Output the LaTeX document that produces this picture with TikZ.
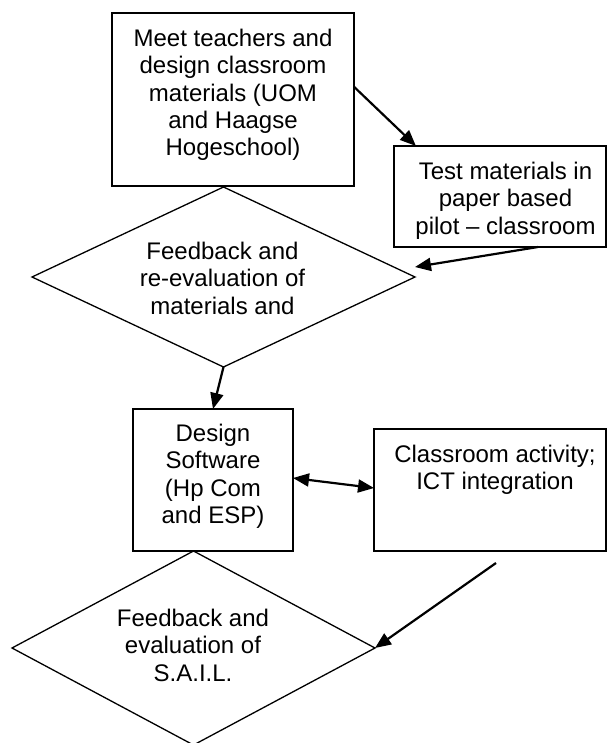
\documentclass[tikz,border=0pt]{standalone}
\usepackage{fontspec}
\setmainfont{Liberation Sans}
\usetikzlibrary{shapes.geometric,arrows.meta}

\tikzset{
  shapebox/.style={draw=black, line width=1.3pt, rectangle, inner sep=0pt, outer sep=0pt, fill=none},
  decision/.style={draw=black, line width=1.3pt, diamond, inner sep=0pt, outer sep=0pt, shape aspect=1},
  txt/.style={anchor=north, inner sep=0pt, align=center,
    font=\fontsize{24pt}{27.3pt}\selectfont,
    execute at begin node={\rule{0pt}{18pt}}},
  flow/.style={line width=2.2pt, -{Triangle[length=16pt,width=13pt]}},
  twoway/.style={line width=2.2pt, {Triangle[length=16pt,width=13pt]}-{Triangle[length=16pt,width=13pt]}}
}

\begin{document}
\begin{tikzpicture}[x=1pt, y=-1pt]
  \useasboundingbox (0,0) rectangle (608,743);
  \clip (0,0) rectangle (608,743);

  % process boxes
  \node[shapebox, minimum width=242pt, minimum height=173pt] (meet) at (233,99.5) {};
  \node[shapebox, minimum width=212pt, minimum height=101pt] (test) at (500,196.5) {};
  \node[shapebox, minimum width=160pt, minimum height=142pt] (design) at (213,480) {};
  \node[shapebox, minimum width=232pt, minimum height=122pt] (class) at (490,490) {};

  % decision diamonds
  \node[decision, minimum width=383pt, minimum height=180pt] (fbone) at (223.5,277) {};
  \node[decision, minimum width=363pt, minimum height=194pt] (fbtwo) at (193.5,648) {};

  % labels
  \node[txt] (meet-t) at (233,29) {Meet teachers and\\design classroom\\materials (UOM\\and Haagse\\Hogeschool)};
  \node[txt] (test-t) at (505.5,162) {Test materials in\\paper based\\pilot – classroom};
  \node[txt] (fbone-t) at (222.5,242) {Feedback and\\re-evaluation of\\materials and};
  \node[txt] (design-t) at (213,424) {Design\\Software\\(Hp Com\\and ESP)};
  \node[txt] (class-t) at (495,445) {Classroom activity;\\ICT integration};
  \node[txt] (fbtwo-t) at (193,609) {Feedback and\\evaluation of\\S.A.I.L.};

  % connectors
  \coordinate (loose) at (496,563);
  \draw[flow] (meet.6.4) -- (test.149.9);
  \draw[flow] (test.-53.8) -- ([yshift=10pt]fbone.east);
  \draw[flow] (fbone.south) -- (design.north -| 213,0);
  \draw[twoway] (design.east |- 0,478) -- (class.west |- 0,488);
  \draw[flow] (loose) -- (fbtwo.east);
\end{tikzpicture}
\end{document}
